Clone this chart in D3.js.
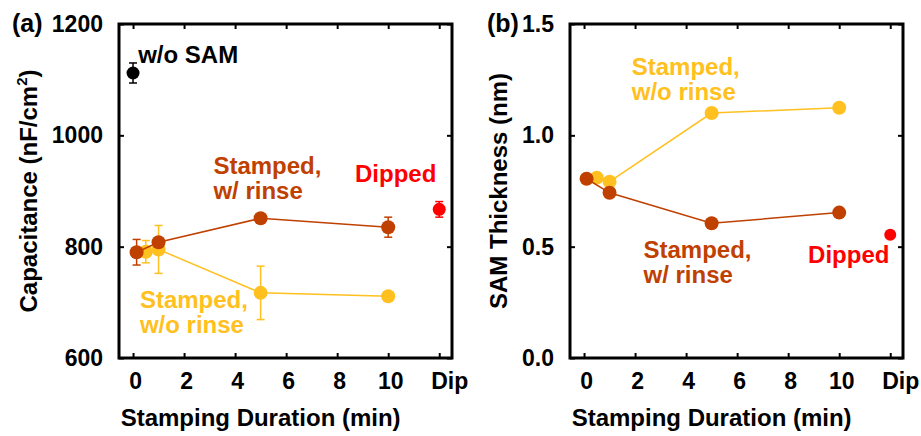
<!DOCTYPE html>
<html>
<head>
<meta charset="utf-8">
<script src="https://cdn.jsdelivr.net/npm/d3@7"></script>
<style>
  body { margin: 0; background: #fff; }
  text { font-family: "Liberation Sans", Arial, sans-serif; font-weight: bold; }
</style>
</head>
<body>
<div id="d3-container"></div>
<script>
/**
 * DATA
 * */
const xTicks = [0, 2, 4, 6, 8, 10, 12];
const xTickLabels = ["0", "2", "4", "6", "8", "10", "Dip"];

// (a) capacitance, nF/cm^2
const capTicks = [600, 800, 1000, 1200];
const capNoSam = [{ x: 0, y: 1112, e: 18 }];
const capRinseX = [0.14, 1, 5, 10];
const capRinseY = [790, 808, 851, 835];
const capRinseErr = [23, 0, 0, 18];
const capNoRinseX = [0.5, 1, 5, 10];
const capNoRinseY = [791, 795, 717, 711];
const capNoRinseErr = [20, 43, 48, 0];
const capDipped = [{ x: 12, y: 867, e: 14 }];

// (b) SAM thickness, nm
const thkTicks = [0, 0.5, 1.0, 1.5];
const thkRinseX = [0.1, 1, 5, 10];
const thkRinseY = [0.805, 0.742, 0.605, 0.653];
const thkNoRinseX = [0.5, 1, 5, 10];
const thkNoRinseY = [0.81, 0.792, 1.10, 1.124];
const thkDipped = [{ x: 12, y: 0.554, e: 0 }];

const colRinse = "#c04000",
  colNoRinse = "#ffc020",
  colDip = "#ff0000";

const zip = (xs, ys, es) => xs.map((x, i) => ({ x, y: ys[i], e: es ? es[i] : 0 }));

/**
 * SETUP
 * */
const svg = d3.select("#d3-container")
  .append("svg")
  .attr("width", 921)
  .attr("height", 436);

function panel(opt) {
  const x = d3.scaleLinear().domain([-0.55, 12.5]).range([opt.left, opt.left + 333]);
  const y = d3.scaleLinear().domain(opt.yDomain).range([358, 24]);
  const g = svg.append("g");

  // axes, ticks inward on all four sides
  const bottom = g.append("g").attr("transform", "translate(0,358)")
    .call(d3.axisBottom(x).tickValues(xTicks).tickSize(-5).tickPadding(15)
      .tickFormat((d, i) => xTickLabels[i]));
  bottom.selectAll("text").attr("dx", (d) => (d === 12 ? 10 : 2));
  g.append("g").attr("transform", "translate(0,24)")
    .call(d3.axisTop(x).tickValues(xTicks).tickSize(-5).tickFormat(""));
  g.append("g").attr("transform", `translate(${opt.left},0)`)
    .call(d3.axisLeft(y).tickValues(opt.yTicks).tickSize(-5).tickPadding(16).tickFormat(opt.fmt));
  g.append("g").attr("transform", `translate(${opt.left + 333},0)`)
    .call(d3.axisRight(y).tickValues(opt.yTicks).tickSize(-5).tickFormat(""));
  g.selectAll(".domain").remove();
  g.selectAll(".tick line").attr("stroke", "#000").attr("stroke-width", 2);
  g.selectAll(".tick text").attr("font-size", 23).attr("fill", "#000")
    .style("font-family", "Liberation Sans, Arial, sans-serif").style("font-weight", "bold");

  g.append("rect")
    .attr("x", opt.left).attr("y", 24).attr("width", 333).attr("height", 334)
    .attr("fill", "none").attr("stroke", "#000").attr("stroke-width", 3);

  const line = d3.line().x(d => x(d.x)).y(d => y(d.y));

  function series(data, color, r, joined) {
    if (joined) {
      g.append("path").datum(data).attr("d", line)
        .attr("fill", "none").attr("stroke", color).attr("stroke-width", 1.5);
    }
    const bars = data.filter(d => d.e > 0);
    g.selectAll(null).data(bars).join("line")
      .attr("x1", d => x(d.x)).attr("x2", d => x(d.x))
      .attr("y1", d => y(d.y - d.e)).attr("y2", d => y(d.y + d.e))
      .attr("stroke", color).attr("stroke-width", 1.5);
    ["-", "+"].forEach(s => {
      g.selectAll(null).data(bars).join("line")
        .attr("x1", d => x(d.x) - 4).attr("x2", d => x(d.x) + 4)
        .attr("y1", d => y(s === "-" ? d.y - d.e : d.y + d.e))
        .attr("y2", d => y(s === "-" ? d.y - d.e : d.y + d.e))
        .attr("stroke", color).attr("stroke-width", 1.5);
    });
    g.selectAll(null).data(data).join("circle")
      .attr("cx", d => x(d.x)).attr("cy", d => y(d.y)).attr("r", r)
      .attr("fill", color);
  }

  opt.series.forEach(s => series(s.data, s.color, s.r, s.joined));

  // annotations, placed in data coordinates
  opt.notes.forEach(n => {
    const t = g.append("text").attr("x", x(n.x)).attr("y", y(n.y))
      .attr("fill", n.color).attr("font-size", 24);
    n.lines.forEach((s, i) => {
      t.append("tspan").attr("x", x(n.x)).attr("dy", i ? 25 : 0).text(s);
    });
  });

  // x title, centred on 0..10
  g.append("text")
    .attr("x", (x(0) + x(10)) / 2).attr("y", 426)
    .attr("text-anchor", "middle").attr("font-size", 24)
    .text("Stamping Duration (min)");

  // y title
  const yt = g.append("text")
    .attr("transform", `translate(${opt.ytX},191) rotate(-90)`)
    .attr("text-anchor", "middle").attr("font-size", 24);
  opt.yTitle(yt);

  g.append("text").attr("x", opt.tagX).attr("y", 32).attr("font-size", 25).text(opt.tag);
}

panel({
  left: 119,
  yDomain: [600, 1200],
  yTicks: capTicks,
  fmt: d3.format("d"),
  ytX: 37,
  yTitle: t => {
    t.append("tspan").text("Capacitance (nF/cm");
    t.append("tspan").attr("font-size", 15).attr("dy", -10).text("2");
    t.append("tspan").attr("dy", 10).text(")");
  },
  tag: "(a)",
  tagX: 12,
  series: [
    { data: zip(capNoRinseX, capNoRinseY, capNoRinseErr), color: colNoRinse, r: 7, joined: true },
    { data: zip(capRinseX, capRinseY, capRinseErr), color: colRinse, r: 7, joined: true },
    { data: capNoSam, color: "#000", r: 6.5, joined: false },
    { data: capDipped, color: colDip, r: 6.5, joined: false }
  ],
  notes: [
    { x: 0.2, y: 1130, color: "#000", lines: ["w/o SAM"] },
    { x: 3.15, y: 930, color: colRinse, lines: ["Stamped,", "w/ rinse"] },
    { x: 8.7, y: 917, color: colDip, lines: ["Dipped"] },
    { x: 0.27, y: 690, color: colNoRinse, lines: ["Stamped,", "w/o rinse"] }
  ]
});

panel({
  left: 570,
  yDomain: [0, 1.5],
  yTicks: thkTicks,
  fmt: d3.format(".1f"),
  ytX: 507,
  yTitle: t => t.text("SAM Thickness (nm)"),
  tag: "(b)",
  tagX: 487,
  series: [
    { data: zip(thkNoRinseX, thkNoRinseY), color: colNoRinse, r: 7, joined: true },
    { data: zip(thkRinseX, thkRinseY), color: colRinse, r: 7, joined: true },
    { data: thkDipped, color: colDip, r: 6, joined: false }
  ],
  notes: [
    { x: 1.87, y: 1.271, color: colNoRinse, lines: ["Stamped,", "w/o rinse"] },
    { x: 2.33, y: 0.45, color: colRinse, lines: ["Stamped,", "w/ rinse"] },
    { x: 8.78, y: 0.425, color: colDip, lines: ["Dipped"] }
  ]
});
</script>
</body>
</html>
